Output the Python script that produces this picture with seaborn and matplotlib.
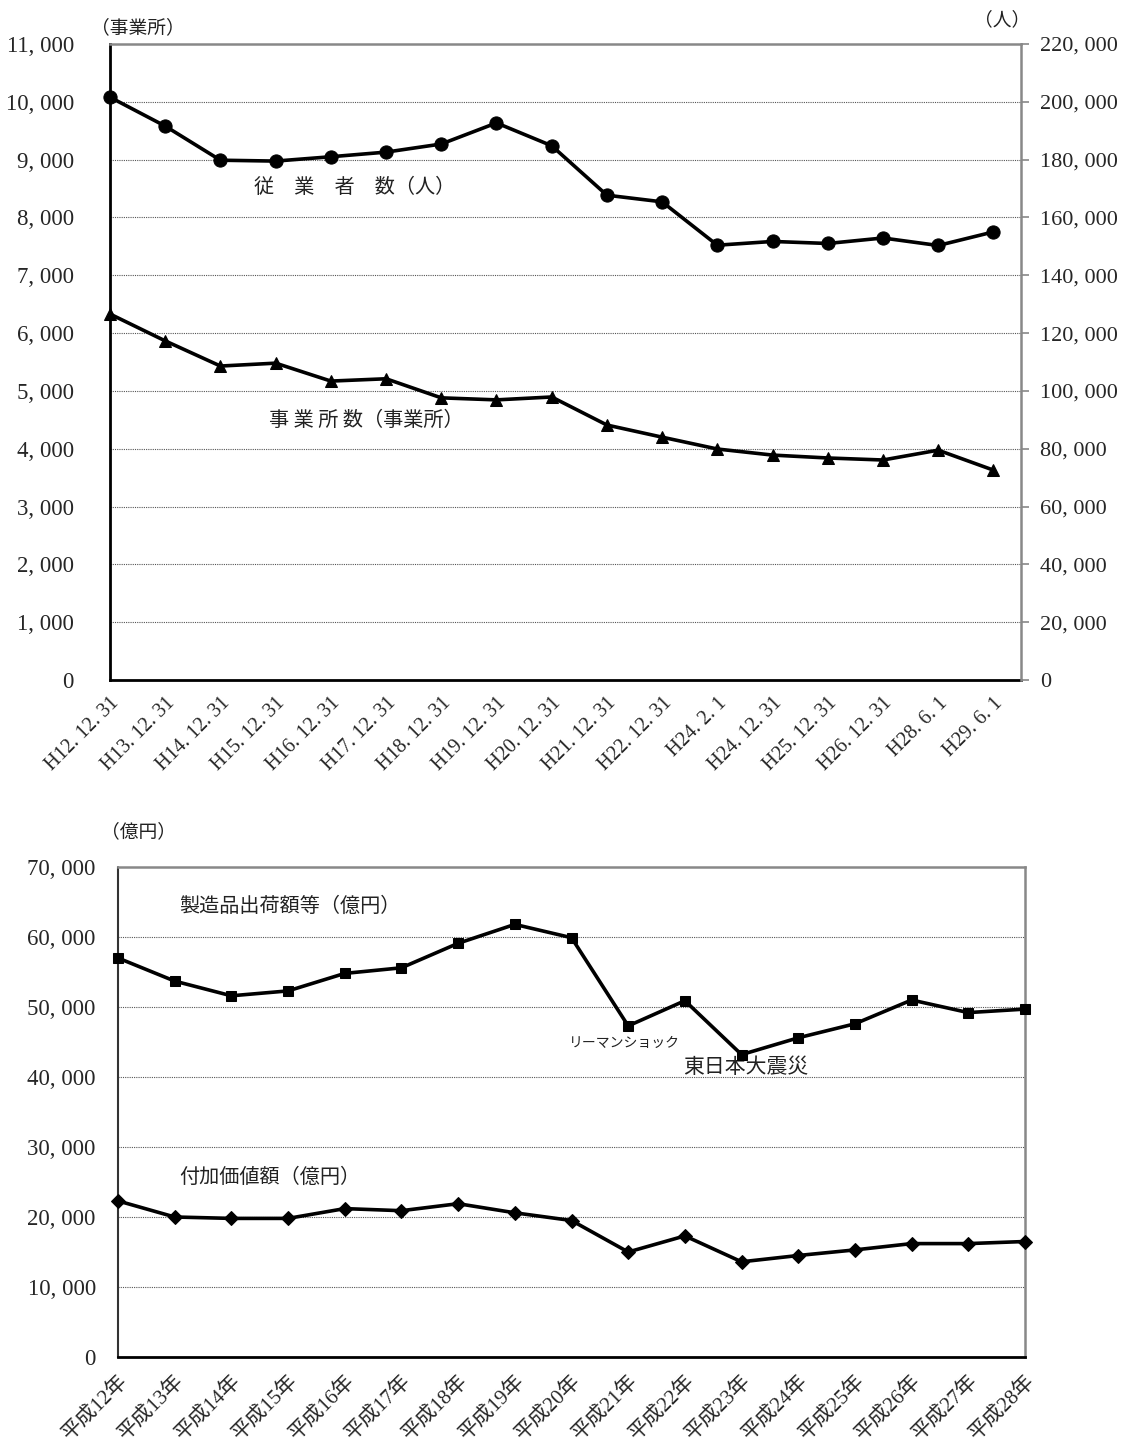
import numpy as np
import pandas as pd
import matplotlib
matplotlib.use("Agg")
import matplotlib.pyplot as plt
import seaborn as sns

# ---------------- data ----------------
dates_top = ["H12. 12. 31", "H13. 12. 31", "H14. 12. 31", "H15. 12. 31", "H16. 12. 31",
             "H17. 12. 31", "H18. 12. 31", "H19. 12. 31", "H20. 12. 31", "H21. 12. 31",
             "H22. 12. 31", "H24. 2. 1", "H24. 12. 31", "H25. 12. 31", "H26. 12. 31",
             "H28. 6. 1", "H29. 6. 1"]
establishments = [6330, 5865, 5430, 5480, 5170, 5210, 4880, 4845, 4895, 4410,
                  4200, 3995, 3890, 3840, 3805, 3975, 3630]
employees = [201600, 191600, 179800, 179500, 181000, 182600, 185400, 192700, 184800,
             167700, 165400, 150400, 151700, 151000, 152900, 150300, 155000]

years_bottom = ["平成12年", "平成13年", "平成14年", "平成15年", "平成16年", "平成17年",
                "平成18年", "平成19年", "平成20年", "平成21年", "平成22年", "平成23年",
                "平成24年", "平成25年", "平成26年", "平成27年", "平成28年"]
shipments = [57000, 53700, 51600, 52300, 54800, 55600, 59100, 61800, 59900,
             47300, 50900, 43200, 45600, 47600, 51000, 49200, 49700]
value_added = [22300, 20000, 19800, 19800, 21200, 20900, 21900, 20600, 19500,
               15000, 17300, 13600, 14500, 15300, 16200, 16200, 16500]

# ---------------- style ----------------
sns.set_style("white")
plt.rcParams['font.family'] = ['Liberation Serif', 'Noto Sans CJK JP', 'DejaVu Sans']
SERIF = ['Liberation Serif', 'Noto Sans CJK JP']
GOTH = ['Noto Sans CJK JP', 'DejaVu Sans']

fig = plt.figure(figsize=(11.31, 14.43), dpi=100)

def fmt(v):
    return "{:,}".format(int(v)).replace(",", ", ")

grid_kw = dict(color="#555555", lw=0.8, ls=(0, (1, 1)))
YFS = 16.5
LFS = 14.5

# ================= top chart =================
ax1 = fig.add_axes([110/1131, 1-680/1443, (1021-110)/1131, (680-44)/1443])
df_top = pd.DataFrame({"x": np.arange(len(dates_top)),
                       "est": establishments, "emp": employees})
sns.lineplot(data=df_top, x="x", y="est", ax=ax1, color="black", lw=2.6,
             marker="^", markersize=8, markeredgecolor="black", zorder=5)
ax1.set_xlim(0, len(dates_top) - 0.5)
ax1.set_ylim(0, 11000)
yt = np.arange(0, 11001, 1000)
ax1.set_yticks(yt)
ax1.set_yticklabels([fmt(v) for v in yt], fontsize=YFS, family=SERIF)
for v in yt[1:-1]:
    ax1.axhline(v, **grid_kw, zorder=1)
ax1.set_xticks(np.arange(len(dates_top)))
ax1.set_xticklabels(dates_top, rotation=45, ha="right", va="top",
                    rotation_mode="anchor", fontsize=14.5, family=SERIF)
ax1.set_xlabel("")
ax1.set_ylabel("")
ax1.tick_params(axis="x", direction="out", length=6, width=1.5, color="black", pad=4)
ax1.tick_params(axis="y", length=0, pad=26)
for s in ["left", "bottom"]:
    ax1.spines[s].set_color("black")
    ax1.spines[s].set_linewidth(2)
ax1.spines["top"].set_color("#888888")
ax1.spines["top"].set_linewidth(1.8)
ax1.spines["right"].set_visible(False)
for ln in ax1.lines:
    ln.set_clip_on(False)

ax2 = ax1.twinx()
sns.lineplot(data=df_top, x="x", y="emp", ax=ax2, color="black", lw=2.6,
             marker="o", markersize=9.5, markeredgecolor="black", zorder=5)
ax2.set_ylim(0, 220000)
yt2 = np.arange(0, 220001, 20000)
ax2.set_yticks(yt2)
ax2.set_yticklabels([fmt(v) for v in yt2], fontsize=16, family=SERIF)
ax2.set_ylabel("")
ax2.tick_params(axis="y", direction="out", length=6, width=1.2, color="#888888", pad=8)
for s in ["left", "bottom", "top"]:
    ax2.spines[s].set_visible(False)
ax2.spines["right"].set_color("#888888")
ax2.spines["right"].set_linewidth(1.8)
for ln in ax2.lines:
    ln.set_clip_on(False)

ax1.text(4.43, 8512, "従　業　者　数（人）", ha="center", va="center",
         fontsize=LFS, family=GOTH, color="#222222")
ax1.text(4.65, 4481, "事 業 所 数（事業所）", ha="center", va="center",
         fontsize=LFS, family=GOTH, color="#222222")
fig.text(138/1131, 1-28/1443, "（事業所）", ha="center", va="center",
         fontsize=13.5, family=GOTH, color="#222222")
fig.text(1002/1131, 1-20/1443, "（人）", ha="center", va="center",
         fontsize=13.5, family=GOTH, color="#222222")

# ================= bottom chart =================
ax3 = fig.add_axes([118/1131, 1-1357/1443, (1025-118)/1131, (1357-867)/1443])
df_bot = pd.DataFrame({"x": np.arange(len(years_bottom)),
                       "ship": shipments, "va": value_added})
sns.lineplot(data=df_bot, x="x", y="ship", ax=ax3, color="black", lw=2.6,
             marker="s", markersize=7, markeredgecolor="black", zorder=5)
sns.lineplot(data=df_bot, x="x", y="va", ax=ax3, color="black", lw=2.6,
             marker="D", markersize=7.5, markeredgecolor="black", zorder=5)
ax3.set_xlim(0, len(years_bottom) - 1)
ax3.set_ylim(0, 70000)
yt3 = np.arange(0, 70001, 10000)
ax3.set_yticks(yt3)
ax3.set_yticklabels([fmt(v) for v in yt3], fontsize=YFS, family=SERIF)
for v in yt3[1:-1]:
    ax3.axhline(v, **grid_kw, zorder=1)
ax3.set_xticks(np.arange(len(years_bottom)))
ax3.set_xticklabels(years_bottom, rotation=45, ha="right", va="top",
                    rotation_mode="anchor", fontsize=15, family=SERIF)
ax3.set_xlabel("")
ax3.set_ylabel("")
ax3.tick_params(axis="x", direction="out", length=6, width=1.5, color="black", pad=4)
ax3.tick_params(axis="y", length=0, pad=16)
ax3.spines["bottom"].set_color("black")
ax3.spines["bottom"].set_linewidth(2)
ax3.spines["left"].set_color("#333333")
ax3.spines["left"].set_linewidth(1.5)
ax3.spines["left"].set_linestyle((0, (1, 1)))
for s in ["top", "right"]:
    ax3.spines[s].set_color("#888888")
    ax3.spines[s].set_linewidth(1.8)
for ln in ax3.lines:
    if ln.get_marker() in ("s", "D"):
        ln.set_clip_on(False)

ax3.text(3.03, 64430, "製造品出荷額等（億円）", ha="center", va="center",
         fontsize=LFS, family=GOTH, color="#222222")
ax3.text(8.94, 44860, "リーマンショック", ha="center", va="center",
         fontsize=10, family=GOTH, color="#222222")
ax3.text(11.08, 41430, "東日本大震災", ha="center", va="center",
         fontsize=15, family=GOTH, color="#222222")
ax3.text(2.68, 25710, "付加価値額（億円）", ha="center", va="center",
         fontsize=LFS, family=GOTH, color="#222222")
fig.text(138/1131, 1-832/1443, "（億円）", ha="center", va="center",
         fontsize=13.5, family=GOTH, color="#222222")

fig.savefig("out.png", dpi=100, facecolor="white")
